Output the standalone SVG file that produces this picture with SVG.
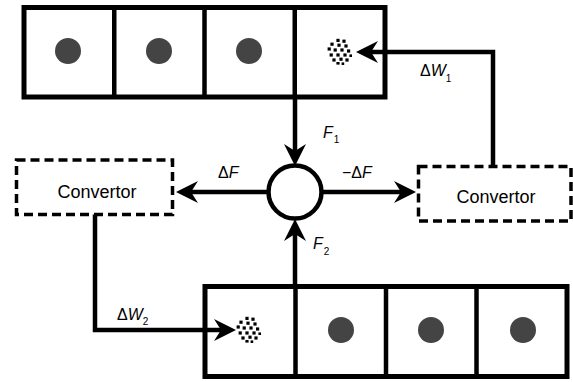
<svg xmlns="http://www.w3.org/2000/svg" width="573" height="382" viewBox="0 0 573 382">
<style>
.box{fill:#fff;stroke:#000;stroke-width:5}
.div{stroke:#000;stroke-width:4.5}
.dot{fill:#444}
.conv{fill:#fff;stroke:#000;stroke-width:3.5;stroke-dasharray:9 5}
.ctext{font-family:"Liberation Sans",Arial,sans-serif;font-size:18px;fill:#000;text-anchor:middle}
.lbl{font-family:"Liberation Sans",Arial,sans-serif;font-size:16px;fill:#000}
.it{font-style:italic}
.sub{font-size:10px}
.conn{fill:none;stroke:#000;stroke-width:4.5;stroke-linejoin:miter}
</style>
<defs>
<marker id="arr" viewBox="0 0 22 22" refX="10" refY="11" markerWidth="22" markerHeight="22" markerUnits="userSpaceOnUse" orient="auto">
<path d="M0,0 L22,11 L0,22 L7,11 Z" fill="#000"/>
</marker>
<g id="ball" fill="#000">
<rect x="-3.6" y="-13.2" width="3.2" height="3.2"/>
<rect x="2.4" y="-12.4" width="3.2" height="3.2"/>
<rect x="-9.6" y="-9.4" width="3.2" height="3.2"/>
<rect x="-2.6" y="-8.4" width="3.2" height="3.2"/>
<rect x="4.4" y="-7.6" width="3.2" height="3.2"/>
<rect x="-12.4" y="-4.6" width="3.2" height="3.2"/>
<rect x="-6.4" y="-3.6" width="3.2" height="3.2"/>
<rect x="0.4" y="-3.6" width="3.2" height="3.2"/>
<rect x="7" y="-2.6" width="3.2" height="3.2"/>
<rect x="-10.4" y="1.4" width="3.2" height="3.2"/>
<rect x="-3.6" y="1.4" width="3.2" height="3.2"/>
<rect x="3.4" y="1.4" width="3.2" height="3.2"/>
<rect x="9.4" y="2.4" width="2.6" height="2.6"/>
<rect x="-7.6" y="6.4" width="3.2" height="3.2"/>
<rect x="-0.6" y="5.6" width="3.2" height="3.2"/>
<rect x="5.4" y="6.4" width="3.2" height="3.2"/>
<rect x="-3.6" y="10" width="3.2" height="2.6"/>
<rect x="1.6" y="10.4" width="2.6" height="2.6"/>
</g>
</defs>

<g id="top-row">
<rect class="box" x="24" y="7.5" width="361" height="89.5"/>
<line class="div" x1="114.25" y1="7.5" x2="114.25" y2="97"/>
<line class="div" x1="204.5" y1="7.5" x2="204.5" y2="97"/>
<line class="div" x1="294.75" y1="7.5" x2="294.75" y2="97"/>
<circle class="dot" cx="68" cy="51" r="13"/>
<circle class="dot" cx="159" cy="51" r="13"/>
<circle class="dot" cx="249" cy="51" r="13"/>
<use href="#ball" x="340" y="52"/>
</g>

<g id="bottom-row">
<rect class="box" x="205" y="286.5" width="362" height="90"/>
<line class="div" x1="295.5" y1="286.5" x2="295.5" y2="376.5"/>
<line class="div" x1="386" y1="286.5" x2="386" y2="376.5"/>
<line class="div" x1="476.5" y1="286.5" x2="476.5" y2="376.5"/>
<use href="#ball" x="249" y="330"/>
<circle class="dot" cx="341" cy="330" r="13"/>
<circle class="dot" cx="431" cy="330" r="13"/>
<circle class="dot" cx="523" cy="330" r="13"/>
</g>

<g id="summer">
<circle cx="295" cy="192" r="26.5" fill="#fff" stroke="#000" stroke-width="4.5"/>
</g>

<g id="convertor-left">
<rect class="conv" x="16.5" y="160" width="156" height="54.5"/>
<text class="ctext" x="97" y="198">Convertor</text>
</g>

<g id="convertor-right">
<rect class="conv" x="418.5" y="166.5" width="152.5" height="54.5"/>
<text class="ctext" x="496" y="203">Convertor</text>
</g>

<g id="connectors">
<path class="conn" d="M295,97 V154" marker-end="url(#arr)"/>
<path class="conn" d="M295,287 V231" marker-end="url(#arr)"/>
<path class="conn" d="M268.5,192 H188" marker-end="url(#arr)"/>
<path class="conn" d="M321.5,192 H404" marker-end="url(#arr)"/>
<path class="conn" d="M493,166.5 V52 H368" marker-end="url(#arr)"/>
<path class="conn" d="M95,214.5 V330 H224" marker-end="url(#arr)"/>
</g>

<g id="labels">
<text class="lbl" x="323" y="138"><tspan class="it">F</tspan><tspan class="sub" dx="1" dy="5">1</tspan></text>
<text class="lbl" x="313" y="249"><tspan class="it">F</tspan><tspan class="sub" dx="1" dy="6">2</tspan></text>
<text class="lbl" x="218" y="178">Δ<tspan class="it">F</tspan></text>
<text class="lbl" x="342" y="178">−Δ<tspan class="it">F</tspan></text>
<text class="lbl" x="420" y="76">Δ<tspan class="it">W</tspan><tspan class="sub" dx="0" dy="6">1</tspan></text>
<text class="lbl" x="117" y="320">Δ<tspan class="it">W</tspan><tspan class="sub" dx="0" dy="5">2</tspan></text>
</g>
</svg>
